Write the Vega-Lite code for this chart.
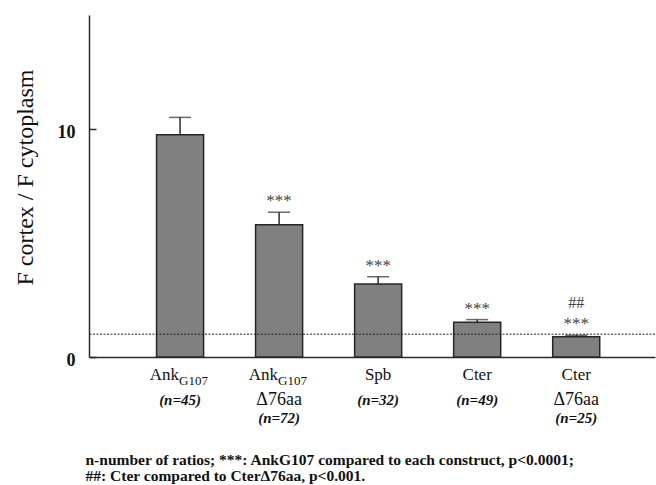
{
  "$schema": "https://vega.github.io/schema/vega-lite/v6.json",
  "width": 566,
  "height": 342,
  "autosize": {"type": "none"},
  "padding": {"left": 89, "top": 15, "right": 1, "bottom": 128},
  "background": "white",
  "config": {
    "view": {"stroke": null},
    "font": "Liberation Serif",
    "text": {"font": "Liberation Serif", "color": "#111"}
  },
  "data": {
    "values": [
      {"construct": "AnkG107", "name": "Ank", "sub": "G107", "line2": "", "n": "(n=45)", "mean": 9.75, "upper": 10.51, "sig1": "", "sig2": ""},
      {"construct": "AnkG107 Δ76aa", "name": "Ank", "sub": "G107", "line2": "Δ76aa", "n": "(n=72)", "mean": 5.8, "upper": 6.35, "sig1": "***", "sig2": ""},
      {"construct": "Spb", "name": "Spb", "sub": "", "line2": "", "n": "(n=32)", "mean": 3.2, "upper": 3.52, "sig1": "***", "sig2": ""},
      {"construct": "Cter", "name": "Cter", "sub": "", "line2": "", "n": "(n=49)", "mean": 1.52, "upper": 1.64, "sig1": "***", "sig2": ""},
      {"construct": "Cter Δ76aa", "name": "Cter", "sub": "", "line2": "Δ76aa", "n": "(n=25)", "mean": 0.89, "upper": 0.95, "sig1": "***", "sig2": "##"}
    ]
  },
  "layer": [
    {
      "encoding": {
        "x": {
          "field": "construct",
          "type": "nominal",
          "sort": null,
          "scale": {"paddingInner": 0.525, "paddingOuter": 0.62, "align": 0.55},
          "axis": {
            "labels": false,
            "ticks": false,
            "domainColor": "#2b2b2b",
            "domainWidth": 1.5,
            "title": ["n-number of ratios; ***: AnkG107 compared to each construct, p<0.0001;", "##: Cter compared to CterΔ76aa, p<0.001."],
            "titleFont": "Liberation Serif",
            "titleFontSize": 15.5,
            "titleFontWeight": "bold",
            "titleColor": "#111",
            "titleAlign": "left",
            "titleAnchor": "start",
            "titleBaseline": "alphabetic",
            "titleLineHeight": 16,
            "titleX": -4,
            "titleY": 107
          }
        }
      },
      "layer": [
        {
          "mark": {"type": "bar", "fill": "#808080", "stroke": "#262626", "strokeWidth": 1.5},
          "encoding": {
            "y": {
              "field": "mean",
              "type": "quantitative",
              "scale": {"domain": [0, 15], "nice": false, "zero": true},
              "axis": {
                "values": [0, 10],
                "grid": false,
                "domainColor": "#2b2b2b",
                "domainWidth": 1.5,
                "tickColor": "#2b2b2b",
                "tickWidth": 1.5,
                "tickSize": -7,
                "labelPadding": 21,
                "labelFont": "Liberation Serif",
                "labelFontSize": 18,
                "labelFontWeight": "bold",
                "labelColor": "#111",
                "labelOffset": 3,
                "title": "F cortex / F cytoplasm",
                "titleFont": "Liberation Serif",
                "titleFontSize": 24,
                "titleFontWeight": "normal",
                "titleColor": "#111",
                "titleAngle": -90,
                "titleAlign": "center",
                "titleBaseline": "alphabetic",
                "titleX": -57,
                "titleY": 162
              }
            }
          }
        },
        {
          "mark": {"type": "rule", "color": "#2b2b2b", "strokeWidth": 1.5},
          "encoding": {
            "y": {"field": "mean", "type": "quantitative"},
            "y2": {"field": "upper"}
          }
        },
        {
          "mark": {"type": "tick", "color": "#2b2b2b", "thickness": 1.5, "size": 22},
          "encoding": {
            "y": {"field": "upper", "type": "quantitative"}
          }
        },
        {
          "mark": {"type": "text", "fontSize": 17, "color": "#444", "baseline": "alphabetic", "dy": -6},
          "encoding": {
            "y": {"field": "upper", "type": "quantitative"},
            "text": {"field": "sig1"}
          }
        },
        {
          "mark": {"type": "text", "fontSize": 16, "color": "#444", "baseline": "alphabetic", "dy": -27},
          "encoding": {
            "y": {"field": "upper", "type": "quantitative"},
            "text": {"field": "sig2"}
          }
        },
        {
          "transform": [{"filter": "datum.sub != ''"}],
          "mark": {"type": "text", "fontSize": 17, "align": "right", "baseline": "alphabetic", "dx": -1},
          "encoding": {
            "y": {"datum": -1.0},
            "text": {"field": "name"}
          }
        },
        {
          "transform": [{"filter": "datum.sub != ''"}],
          "mark": {"type": "text", "fontSize": 13, "align": "left", "baseline": "alphabetic", "dx": -1, "dy": 5},
          "encoding": {
            "y": {"datum": -1.0},
            "text": {"field": "sub"}
          }
        },
        {
          "transform": [{"filter": "datum.sub == ''"}],
          "mark": {"type": "text", "fontSize": 17, "align": "center", "baseline": "alphabetic"},
          "encoding": {
            "y": {"datum": -1.0},
            "text": {"field": "name"}
          }
        },
        {
          "transform": [{"filter": "datum.line2 != ''"}],
          "mark": {"type": "text", "fontSize": 18, "align": "center", "baseline": "alphabetic"},
          "encoding": {
            "y": {"datum": -2.09},
            "text": {"field": "line2"}
          }
        },
        {
          "transform": [{"filter": "datum.line2 == ''"}],
          "mark": {"type": "text", "fontSize": 15, "fontStyle": "italic", "fontWeight": "bold", "align": "center", "baseline": "alphabetic"},
          "encoding": {
            "y": {"datum": -2.11},
            "text": {"field": "n"}
          }
        },
        {
          "transform": [{"filter": "datum.line2 != ''"}],
          "mark": {"type": "text", "fontSize": 15, "fontStyle": "italic", "fontWeight": "bold", "align": "center", "baseline": "alphabetic"},
          "encoding": {
            "y": {"datum": -2.9},
            "text": {"field": "n"}
          }
        }
      ]
    },
    {
      "data": {"values": [{}]},
      "mark": {"type": "rule", "color": "#222", "strokeWidth": 1, "strokeDash": [2, 1.5]},
      "encoding": {"y": {"datum": 1}}
    }
  ]
}
